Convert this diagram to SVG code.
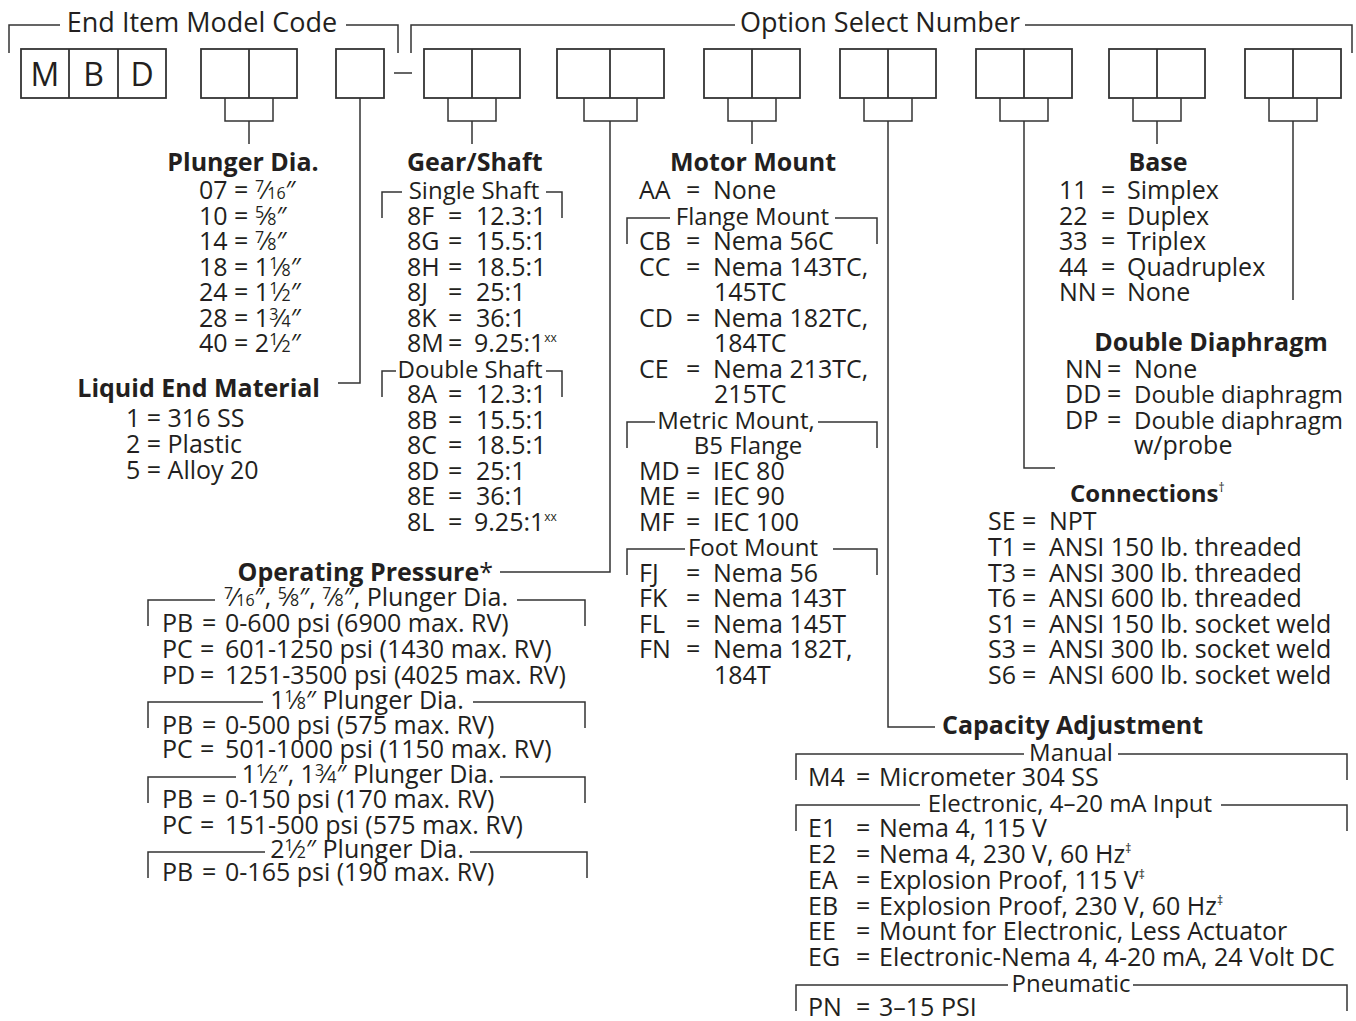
<svg xmlns="http://www.w3.org/2000/svg" width="1356" height="1021" viewBox="0 0 1356 1021">
<style>
.t{font-family:"Open Sans","Noto Sans","DejaVu Sans",sans-serif;font-size:25px;fill:#231f20}
.h{font-weight:bold}
.ti{font-size:27px}
.big{font-size:32px}
.s24{font-size:24px}
.fr{font-size:16px}
.sup{font-size:12px}
.m{text-anchor:middle}
.e{text-anchor:end}
.ln{fill:none;stroke:#333;stroke-width:1.5}
.bx{fill:none;stroke:#333;stroke-width:1.8}
</style>
<rect width="1356" height="1021" fill="#fff"/>

<g id="titles">
  <path class="ln" d="M9,53V25H60M346,25H398V53"/>
  <text class="t ti m" x="202" y="32">End Item Model Code</text>
  <path class="ln" d="M411,53V25H735M1025,25H1352V53"/>
  <text class="t ti m" x="880" y="32">Option Select Number</text>
</g>

<g id="code-boxes">
  <g id="box-mbd">
    <rect class="bx" x="21" y="49" width="145" height="49"/>
    <path class="bx" d="M69,49V98M118,49V98"/>
    <text class="t big m" x="45" y="86">M</text>
    <text class="t big m" x="93.5" y="86">B</text>
    <text class="t big m" x="142" y="86">D</text>
  </g>
  <g id="box-plunger"><rect class="bx" x="201" y="49" width="96" height="49"/><path class="bx" d="M249,49V98"/></g>
  <g id="box-liquid"><rect class="bx" x="336" y="49" width="48" height="49"/></g>
  <path id="dash" class="ln" d="M394,73H412"/>
  <g id="box-gear"><rect class="bx" x="424" y="49" width="96" height="49"/><path class="bx" d="M472,49V98"/></g>
  <g id="box-pressure"><rect class="bx" x="557" y="49" width="107" height="49"/><path class="bx" d="M610,49V98"/></g>
  <g id="box-motor"><rect class="bx" x="704" y="49" width="96" height="49"/><path class="bx" d="M752,49V98"/></g>
  <g id="box-capacity"><rect class="bx" x="840" y="49" width="96" height="49"/><path class="bx" d="M888,49V98"/></g>
  <g id="box-connections"><rect class="bx" x="976" y="49" width="96" height="49"/><path class="bx" d="M1024,49V98"/></g>
  <g id="box-base"><rect class="bx" x="1109" y="49" width="96" height="49"/><path class="bx" d="M1157,49V98"/></g>
  <g id="box-diaphragm"><rect class="bx" x="1245" y="49" width="96" height="49"/><path class="bx" d="M1293,49V98"/></g>
</g>

<g id="connectors">
  <path class="ln" d="M225,98V121H273V98M249,121V144"/>
  <path class="ln" d="M360,98V383H338"/>
  <path class="ln" d="M448,98V121H496V98M472,121V144"/>
  <path class="ln" d="M584,98V121H637V98M610,121V572H500"/>
  <path class="ln" d="M728,98V121H776V98M752,121V144"/>
  <path class="ln" d="M864,98V121H912V98M888,121V727H935"/>
  <path class="ln" d="M1000,98V121H1048V98M1024,121V468H1055"/>
  <path class="ln" d="M1133,98V121H1181V98M1157,121V144"/>
  <path class="ln" d="M1269,98V121H1317V98M1293,121V300"/>
</g>

<g id="plunger-dia">
  <text class="t h m" x="243" y="171">Plunger Dia.</text>
  <text class="t" x="199" y="199">07 = <tspan class="fr" dy="-7">7</tspan><tspan dy="7">⁄</tspan><tspan class="fr">16</tspan>″</text>
  <text class="t" x="199" y="225">10 = <tspan class="fr" dy="-7">5</tspan><tspan dy="7">⁄</tspan><tspan class="fr">8</tspan>″</text>
  <text class="t" x="199" y="250">14 = <tspan class="fr" dy="-7">7</tspan><tspan dy="7">⁄</tspan><tspan class="fr">8</tspan>″</text>
  <text class="t" x="199" y="276">18 = 1<tspan class="fr" dy="-7">1</tspan><tspan dy="7">⁄</tspan><tspan class="fr">8</tspan>″</text>
  <text class="t" x="199" y="301">24 = 1<tspan class="fr" dy="-7">1</tspan><tspan dy="7">⁄</tspan><tspan class="fr">2</tspan>″</text>
  <text class="t" x="199" y="327">28 = 1<tspan class="fr" dy="-7">3</tspan><tspan dy="7">⁄</tspan><tspan class="fr">4</tspan>″</text>
  <text class="t" x="199" y="352">40 = 2<tspan class="fr" dy="-7">1</tspan><tspan dy="7">⁄</tspan><tspan class="fr">2</tspan>″</text>
</g>

<g id="liquid-end">
  <text class="t h e" x="320" y="397">Liquid End Material</text>
  <text class="t" x="126" y="427">1 = 316 SS</text>
  <text class="t" x="126" y="453">2 = Plastic</text>
  <text class="t" x="126" y="479">5 = Alloy 20</text>
</g>

<g id="gear-shaft">
  <text class="t h" x="407" y="171">Gear/Shaft</text>
  <path class="ln" d="M382,218V192H402M546,192H562V218"/>
  <text class="t s24 m" x="474" y="199">Single Shaft</text>
  <text class="t" y="225"><tspan x="407">8F</tspan><tspan x="448">=</tspan><tspan x="476">12.3:1</tspan></text>
  <text class="t" y="250"><tspan x="407">8G</tspan><tspan x="448">=</tspan><tspan x="476">15.5:1</tspan></text>
  <text class="t" y="276"><tspan x="407">8H</tspan><tspan x="448">=</tspan><tspan x="476">18.5:1</tspan></text>
  <text class="t" y="301"><tspan x="407">8J</tspan><tspan x="448">=</tspan><tspan x="476">25:1</tspan></text>
  <text class="t" y="327"><tspan x="407">8K</tspan><tspan x="448">=</tspan><tspan x="476">36:1</tspan></text>
  <text class="t" y="352"><tspan x="407">8M</tspan><tspan x="448">=</tspan><tspan x="474">9.25:1</tspan><tspan class="sup" dy="-10">xx</tspan></text>
  <path class="ln" d="M382,397V371H396M546,371H562V397"/>
  <text class="t s24 m" x="470" y="378">Double Shaft</text>
  <text class="t" y="403"><tspan x="407">8A</tspan><tspan x="448">=</tspan><tspan x="476">12.3:1</tspan></text>
  <text class="t" y="429"><tspan x="407">8B</tspan><tspan x="448">=</tspan><tspan x="476">15.5:1</tspan></text>
  <text class="t" y="454"><tspan x="407">8C</tspan><tspan x="448">=</tspan><tspan x="476">18.5:1</tspan></text>
  <text class="t" y="480"><tspan x="407">8D</tspan><tspan x="448">=</tspan><tspan x="476">25:1</tspan></text>
  <text class="t" y="505"><tspan x="407">8E</tspan><tspan x="448">=</tspan><tspan x="476">36:1</tspan></text>
  <text class="t" y="531"><tspan x="407">8L</tspan><tspan x="448">=</tspan><tspan x="474">9.25:1</tspan><tspan class="sup" dy="-10">xx</tspan></text>
</g>

<g id="motor-mount">
  <text class="t h m" x="753" y="171">Motor Mount</text>
  <text class="t" y="199"><tspan x="639">AA</tspan><tspan x="686">=</tspan><tspan x="713">None</tspan></text>
  <path class="ln" d="M627,244V218H670M835,218H877V244"/>
  <text class="t s24 m" x="752.5" y="225">Flange Mount</text>
  <text class="t" y="250"><tspan x="639">CB</tspan><tspan x="686">=</tspan><tspan x="713">Nema 56C</tspan></text>
  <text class="t" y="276"><tspan x="639">CC</tspan><tspan x="686">=</tspan><tspan x="713">Nema 143TC,</tspan></text>
  <text class="t" x="714" y="301">145TC</text>
  <text class="t" y="327"><tspan x="639">CD</tspan><tspan x="686">=</tspan><tspan x="713">Nema 182TC,</tspan></text>
  <text class="t" x="714" y="352">184TC</text>
  <text class="t" y="378"><tspan x="639">CE</tspan><tspan x="686">=</tspan><tspan x="713">Nema 213TC,</tspan></text>
  <text class="t" x="714" y="403">215TC</text>
  <path class="ln" d="M627,448V422H655M818,422H877V448"/>
  <text class="t s24 m" x="736" y="429">Metric Mount,</text>
  <text class="t s24 m" x="748" y="454">B5 Flange</text>
  <text class="t" y="480"><tspan x="639">MD</tspan><tspan x="686">=</tspan><tspan x="713">IEC 80</tspan></text>
  <text class="t" y="505"><tspan x="639">ME</tspan><tspan x="686">=</tspan><tspan x="713">IEC 90</tspan></text>
  <text class="t" y="531"><tspan x="639">MF</tspan><tspan x="686">=</tspan><tspan x="713">IEC 100</tspan></text>
  <path class="ln" d="M627,575V549H685M833,549H877V575"/>
  <text class="t s24 m" x="753" y="556">Foot Mount</text>
  <text class="t" y="582"><tspan x="639">FJ</tspan><tspan x="686">=</tspan><tspan x="713">Nema 56</tspan></text>
  <text class="t" y="607"><tspan x="639">FK</tspan><tspan x="686">=</tspan><tspan x="713">Nema 143T</tspan></text>
  <text class="t" y="633"><tspan x="639">FL</tspan><tspan x="686">=</tspan><tspan x="713">Nema 145T</tspan></text>
  <text class="t" y="658"><tspan x="639">FN</tspan><tspan x="686">=</tspan><tspan x="713">Nema 182T,</tspan></text>
  <text class="t" x="714" y="684">184T</text>
</g>

<g id="base">
  <text class="t h m" x="1158" y="171">Base</text>
  <text class="t" y="199"><tspan x="1059">11</tspan><tspan x="1101">=</tspan><tspan x="1127">Simplex</tspan></text>
  <text class="t" y="225"><tspan x="1059">22</tspan><tspan x="1101">=</tspan><tspan x="1127">Duplex</tspan></text>
  <text class="t" y="250"><tspan x="1059">33</tspan><tspan x="1101">=</tspan><tspan x="1127">Triplex</tspan></text>
  <text class="t" y="276"><tspan x="1059">44</tspan><tspan x="1101">=</tspan><tspan x="1127">Quadruplex</tspan></text>
  <text class="t" y="301"><tspan x="1059">NN</tspan><tspan x="1101">=</tspan><tspan x="1127">None</tspan></text>
</g>

<g id="double-diaphragm">
  <text class="t h m" x="1211" y="351">Double Diaphragm</text>
  <text class="t" y="378"><tspan x="1065">NN</tspan><tspan x="1107">=</tspan><tspan x="1134">None</tspan></text>
  <text class="t" y="403"><tspan x="1065">DD</tspan><tspan x="1107">=</tspan><tspan x="1134" class="s24">Double diaphragm</tspan></text>
  <text class="t" y="429"><tspan x="1065">DP</tspan><tspan x="1107">=</tspan><tspan x="1134" class="s24">Double diaphragm</tspan></text>
  <text class="t" x="1134" y="454">w/probe</text>
</g>

<g id="connections">
  <text class="t h s24" x="1070" y="502">Connections<tspan class="sup" dy="-10" font-weight="normal">†</tspan></text>
  <text class="t" y="530"><tspan x="988">SE</tspan><tspan x="1022">=</tspan><tspan x="1049">NPT</tspan></text>
  <text class="t" y="556"><tspan x="988">T1</tspan><tspan x="1022">=</tspan><tspan x="1049">ANSI 150 lb. threaded</tspan></text>
  <text class="t" y="582"><tspan x="988">T3</tspan><tspan x="1022">=</tspan><tspan x="1049">ANSI 300 lb. threaded</tspan></text>
  <text class="t" y="607"><tspan x="988">T6</tspan><tspan x="1022">=</tspan><tspan x="1049">ANSI 600 lb. threaded</tspan></text>
  <text class="t" y="633"><tspan x="988">S1</tspan><tspan x="1022">=</tspan><tspan x="1049">ANSI 150 lb. socket weld</tspan></text>
  <text class="t" y="658"><tspan x="988">S3</tspan><tspan x="1022">=</tspan><tspan x="1049">ANSI 300 lb. socket weld</tspan></text>
  <text class="t" y="684"><tspan x="988">S6</tspan><tspan x="1022">=</tspan><tspan x="1049">ANSI 600 lb. socket weld</tspan></text>
</g>

<g id="operating-pressure">
  <text class="t h e" x="493" y="581">Operating Pressure<tspan font-weight="normal">*</tspan></text>
  <path class="ln" d="M148,626V600H215M517,600H585V626"/>
  <text class="t m" x="366" y="606"><tspan class="fr" dy="-7">7</tspan><tspan dy="7">⁄</tspan><tspan class="fr">16</tspan>″, <tspan class="fr" dy="-7">5</tspan><tspan dy="7">⁄</tspan><tspan class="fr">8</tspan>″, <tspan class="fr" dy="-7">7</tspan><tspan dy="7">⁄</tspan><tspan class="fr">8</tspan>″, Plunger Dia.</text>
  <text class="t" y="632"><tspan x="162">PB</tspan><tspan x="202">=</tspan><tspan x="225">0-600 psi (6900 max. RV)</tspan></text>
  <text class="t" y="658"><tspan x="162">PC</tspan><tspan x="200">=</tspan><tspan x="225">601-1250 psi (1430 max. RV)</tspan></text>
  <text class="t" y="684"><tspan x="162">PD</tspan><tspan x="200">=</tspan><tspan x="225">1251-3500 psi (4025 max. RV)</tspan></text>
  <path class="ln" d="M148,728V702H263M473,702H585V728"/>
  <text class="t m" x="367" y="709">1<tspan class="fr" dy="-7">1</tspan><tspan dy="7">⁄</tspan><tspan class="fr">8</tspan>″ Plunger Dia.</text>
  <text class="t" y="734"><tspan x="162">PB</tspan><tspan x="202">=</tspan><tspan x="225">0-500 psi (575 max. RV)</tspan></text>
  <text class="t" y="758"><tspan x="162">PC</tspan><tspan x="200">=</tspan><tspan x="225">501-1000 psi (1150 max. RV)</tspan></text>
  <path class="ln" d="M148,803V777H236M500,777H585V803"/>
  <text class="t m" x="368" y="783">1<tspan class="fr" dy="-7">1</tspan><tspan dy="7">⁄</tspan><tspan class="fr">2</tspan>″, 1<tspan class="fr" dy="-7">3</tspan><tspan dy="7">⁄</tspan><tspan class="fr">4</tspan>″ Plunger Dia.</text>
  <text class="t" y="808"><tspan x="162">PB</tspan><tspan x="202">=</tspan><tspan x="225">0-150 psi (170 max. RV)</tspan></text>
  <text class="t" y="834"><tspan x="162">PC</tspan><tspan x="200">=</tspan><tspan x="225">151-500 psi (575 max. RV)</tspan></text>
  <path class="ln" d="M148,878V852H265M470,852H587V878"/>
  <text class="t m" x="367" y="858">2<tspan class="fr" dy="-7">1</tspan><tspan dy="7">⁄</tspan><tspan class="fr">2</tspan>″ Plunger Dia.</text>
  <text class="t" y="881"><tspan x="162">PB</tspan><tspan x="202">=</tspan><tspan x="225">0-165 psi (190 max. RV)</tspan></text>
</g>

<g id="capacity-adjustment">
  <text class="t h" x="942" y="734">Capacity Adjustment</text>
  <path class="ln" d="M796,780V754H1024M1118,754H1347V780"/>
  <text class="t s24 m" x="1071" y="761">Manual</text>
  <text class="t" y="786"><tspan x="808">M4</tspan><tspan x="856">=</tspan><tspan x="879">Micrometer 304 SS</tspan></text>
  <path class="ln" d="M796,831V805H920M1221,805H1347V831"/>
  <text class="t s24 m" x="1070" y="812">Electronic, 4–20 mA Input</text>
  <text class="t" y="837"><tspan x="808">E1</tspan><tspan x="856">=</tspan><tspan x="879">Nema 4, 115 V</tspan></text>
  <text class="t" y="863"><tspan x="808">E2</tspan><tspan x="856">=</tspan><tspan x="879">Nema 4, 230 V, 60 Hz</tspan><tspan class="sup" dy="-10">‡</tspan></text>
  <text class="t" y="889"><tspan x="808">EA</tspan><tspan x="856">=</tspan><tspan x="879">Explosion Proof, 115 V</tspan><tspan class="sup" dy="-10">‡</tspan></text>
  <text class="t" y="915"><tspan x="808">EB</tspan><tspan x="856">=</tspan><tspan x="879">Explosion Proof, 230 V, 60 Hz</tspan><tspan class="sup" dy="-10">‡</tspan></text>
  <text class="t" y="940"><tspan x="808">EE</tspan><tspan x="856">=</tspan><tspan x="879">Mount for Electronic, Less Actuator</tspan></text>
  <text class="t" y="966"><tspan x="808">EG</tspan><tspan x="856">=</tspan><tspan x="879">Electronic-Nema 4, 4-20 mA, 24 Volt DC</tspan></text>
  <path class="ln" d="M796,1011V985H1008M1133,985H1347V1011"/>
  <text class="t s24 m" x="1071" y="992">Pneumatic</text>
  <text class="t" y="1016"><tspan x="808">PN</tspan><tspan x="856">=</tspan><tspan x="879">3–15 PSI</tspan></text>
</g>
</svg>
